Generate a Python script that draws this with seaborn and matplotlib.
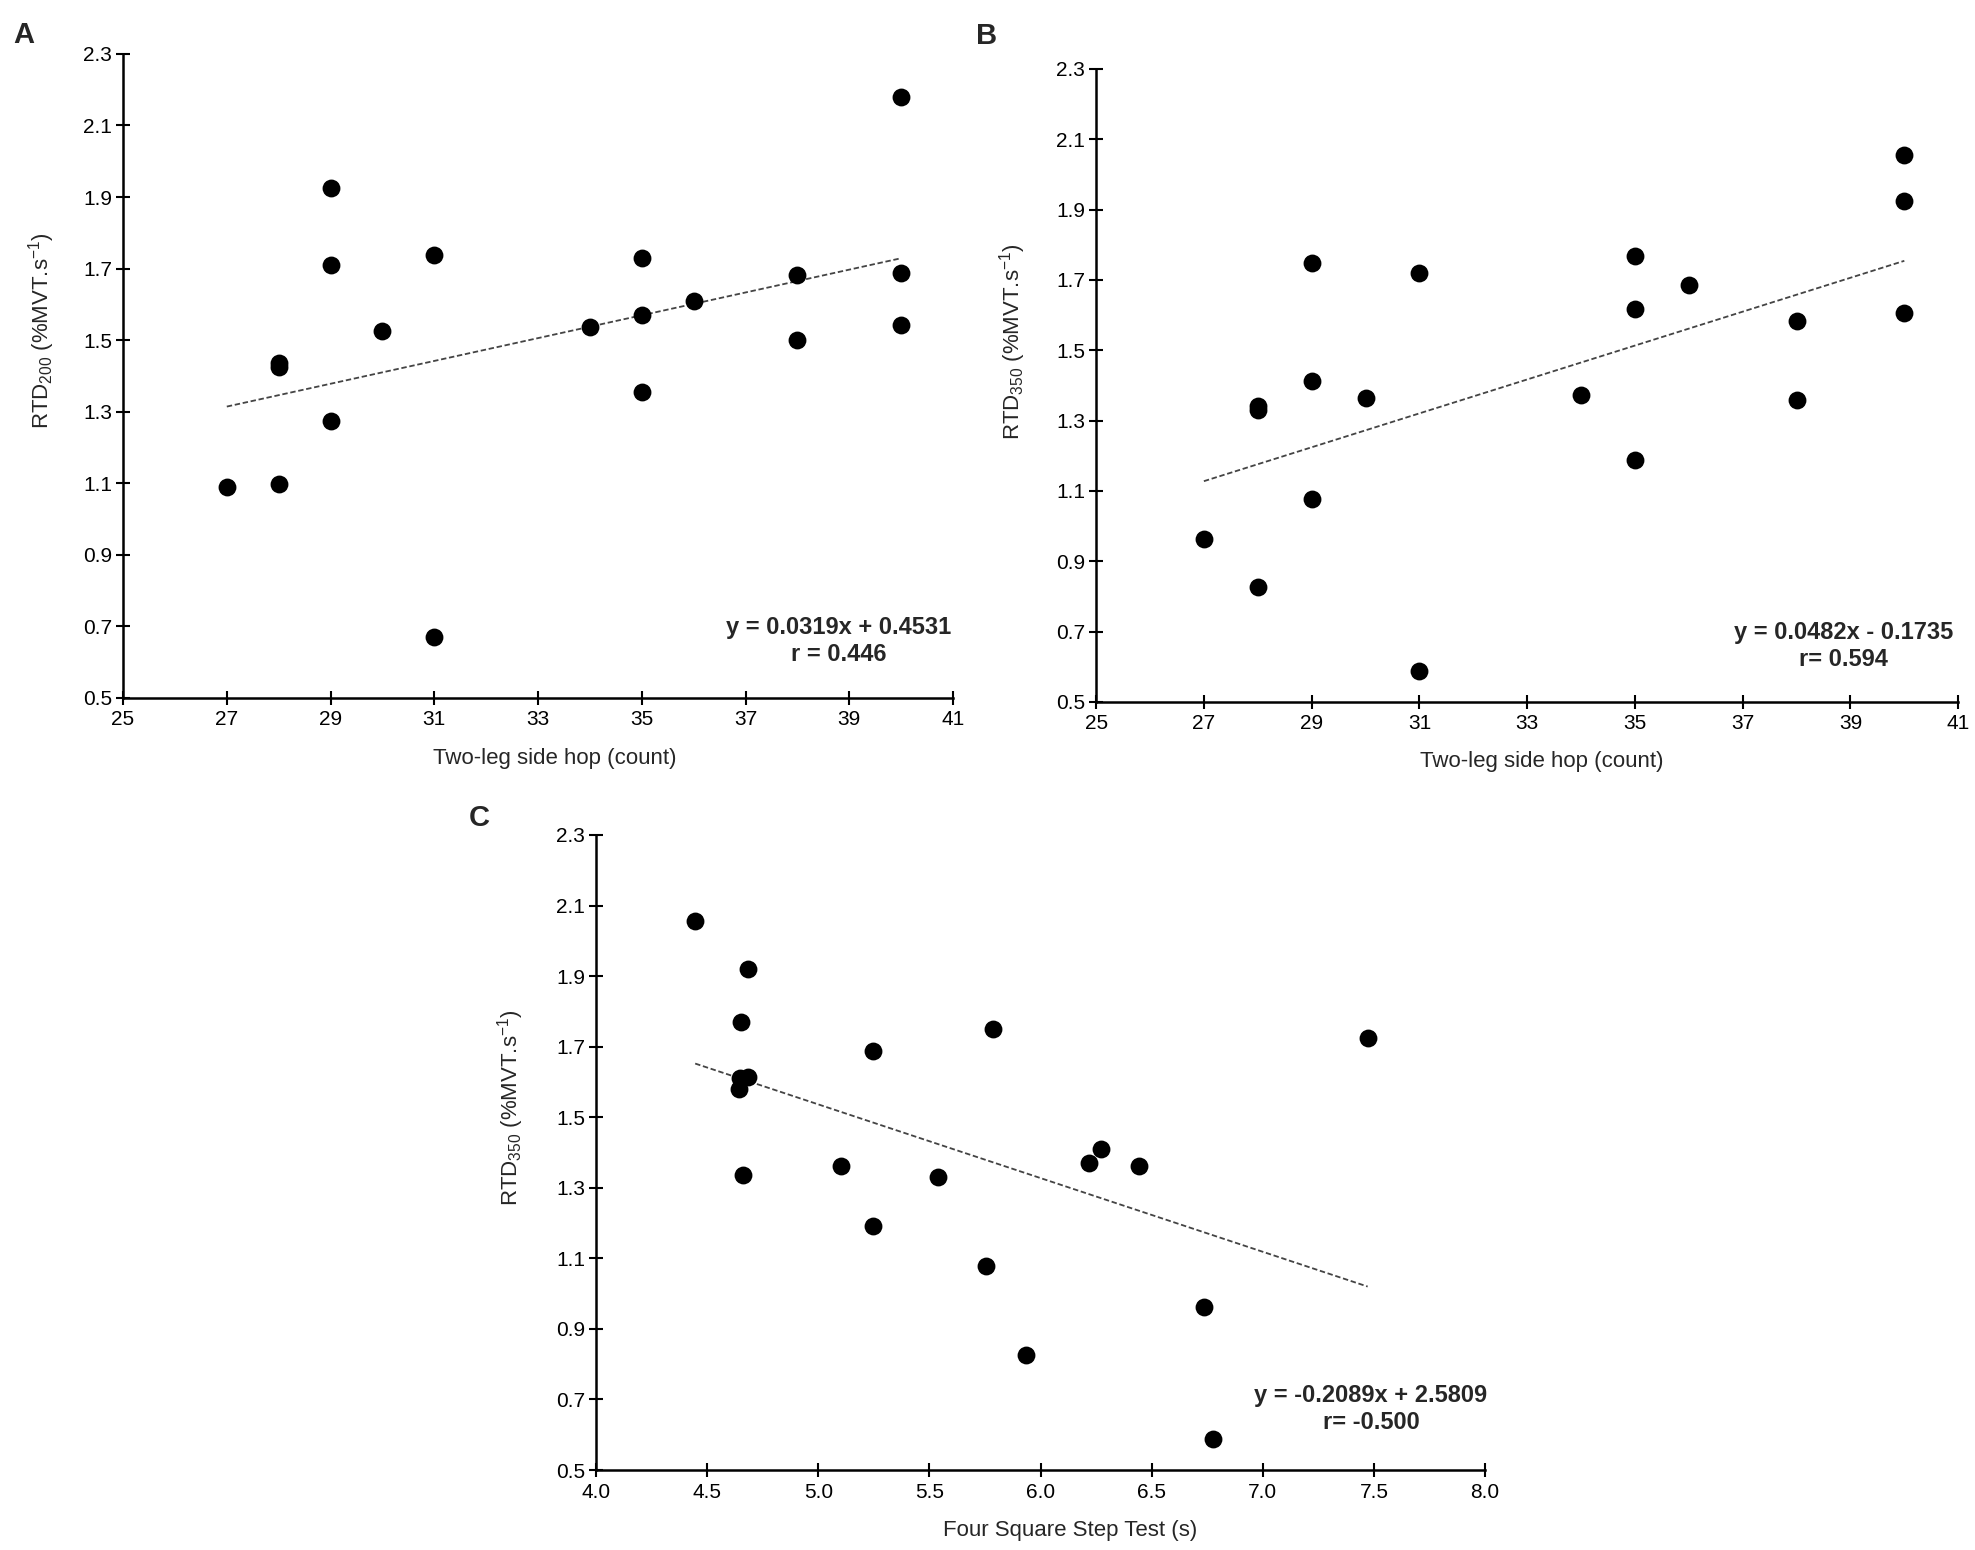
import numpy as np
import matplotlib
matplotlib.use("Agg")
import matplotlib.pyplot as plt
import seaborn as sns

# panel A: two-leg side hop vs RTD200
a_hop = [27, 28, 28, 28, 29, 29, 29, 30, 31, 31, 34, 35, 35, 35, 36, 38, 38, 40, 40, 40]
a_rtd = [1.091, 1.436, 1.426, 1.098, 1.924, 1.709, 1.273, 1.527, 1.737, 0.669,
         1.536, 1.730, 1.569, 1.354, 1.610, 1.682, 1.500, 2.179, 1.688, 1.543]

# panel B: two-leg side hop vs RTD350
b_hop = [27, 28, 28, 28, 29, 29, 29, 30, 31, 31, 34, 35, 35, 35, 36, 38, 38, 40, 40, 40]
b_rtd = [0.963, 1.343, 1.330, 0.827, 1.748, 1.412, 1.078, 1.365, 1.719, 0.589,
         1.373, 1.769, 1.618, 1.188, 1.686, 1.584, 1.359, 2.055, 1.925, 1.605]

# panel C: four square step test vs RTD350
c_fsst = [4.446, 4.684, 4.652, 4.684, 4.642, 4.647, 4.663, 5.104, 5.246, 5.246,
          5.537, 5.756, 5.785, 5.935, 6.218, 6.273, 6.445, 6.735, 6.778, 7.472]
c_rtd = [2.057, 1.920, 1.771, 1.615, 1.580, 1.611, 1.335, 1.363, 1.689, 1.193,
         1.330, 1.077, 1.750, 0.827, 1.369, 1.410, 1.363, 0.962, 0.589, 1.724]

# printed regression results
slopes = [0.0319, 0.0482, -0.2089]
intercepts = [0.4531, -0.1735, 2.5809]
eq_texts = ["y = 0.0319x + 0.4531\nr = 0.446",
            "y = 0.0482x - 0.1735\nr= 0.594",
            "y = -0.2089x + 2.5809\nr= -0.500"]

y_ticks = [0.5, 0.7, 0.9, 1.1, 1.3, 1.5, 1.7, 1.9, 2.1, 2.3]
hop_ticks = [25, 27, 29, 31, 33, 35, 37, 39, 41]
fsst_ticks = [4.0, 4.5, 5.0, 5.5, 6.0, 6.5, 7.0, 7.5, 8.0]

sns.set_style("ticks")
plt.rcParams["font.family"] = ["Liberation Sans", "DejaVu Sans"]
plt.rcParams["mathtext.default"] = "regular"


def draw_panel(ax, x, y, slope, intercept, eq, eq_pos, xlabel, ylabel,
               xticks, tick_fmt, xlabel_x):
    sns.scatterplot(x=x, y=y, ax=ax, color="black", s=165, linewidth=0, zorder=3)
    xs = np.array([min(x), max(x)])
    sns.lineplot(x=xs, y=slope * xs + intercept, ax=ax, color="#444444",
                 linewidth=1.3, linestyle=(0, (3, 1.5)), zorder=2)
    ax.set_xlim(xticks[0], xticks[-1])
    ax.set_ylim(0.5, 2.3)
    ax.set_xticks(xticks)
    ax.set_xticklabels([tick_fmt.format(t) for t in xticks])
    ax.set_yticks(y_ticks)
    ax.set_yticklabels(["{:.1f}".format(t) for t in y_ticks])
    sns.despine(ax=ax)
    for side in ["left", "bottom"]:
        ax.spines[side].set_linewidth(1.8)
        ax.spines[side].set_color("black")
    ax.tick_params(direction="inout", length=10, width=1.5, labelsize=15,
                   colors="black")
    ax.tick_params(axis="x", pad=4)
    ax.tick_params(axis="y", pad=3)
    ax.set_xlabel(xlabel, fontsize=16)
    ax.set_ylabel(ylabel, fontsize=16)
    ax.xaxis.set_label_coords(xlabel_x, -0.078)
    ax.yaxis.set_label_coords(-0.079, 0.57)
    ax.text(eq_pos[0], eq_pos[1], eq, ha="center", va="center",
            fontsize=17, fontweight="bold", multialignment="center")


fig = plt.figure(figsize=(19.75, 15.5), dpi=100)
ax_a = fig.add_axes([0.0623, 0.5497, 0.4203, 0.4155])
ax_b = fig.add_axes([0.5550, 0.5471, 0.4365, 0.4084])
ax_c = fig.add_axes([0.3018, 0.0516, 0.4501, 0.4097])

draw_panel(ax_a, a_hop, a_rtd, slopes[0], intercepts[0], eq_texts[0], (38.8, 0.659),
           "Two-leg side hop (count)", r"RTD$_{200}$ (%MVT.s$^{-1}$)",
           hop_ticks, "{:d}", 0.52)
draw_panel(ax_b, b_hop, b_rtd, slopes[1], intercepts[1], eq_texts[1], (38.87, 0.659),
           "Two-leg side hop (count)", r"RTD$_{350}$ (%MVT.s$^{-1}$)",
           hop_ticks, "{:d}", 0.517)
draw_panel(ax_c, c_fsst, c_rtd, slopes[2], intercepts[2], eq_texts[2], (7.487, 0.673),
           "Four Square Step Test (s)", r"RTD$_{350}$ (%MVT.s$^{-1}$)",
           fsst_ticks, "{:.1f}", 0.533)

fig.text(13 / 1975, 1 - 43 / 1550, "A", fontsize=21, fontweight="bold", va="baseline")
fig.text(976 / 1975, 1 - 44 / 1550, "B", fontsize=21, fontweight="bold", va="baseline")
fig.text(469 / 1975, 1 - 826 / 1550, "C", fontsize=21, fontweight="bold", va="baseline")

fig.savefig("out.png", dpi=100, facecolor="white")
